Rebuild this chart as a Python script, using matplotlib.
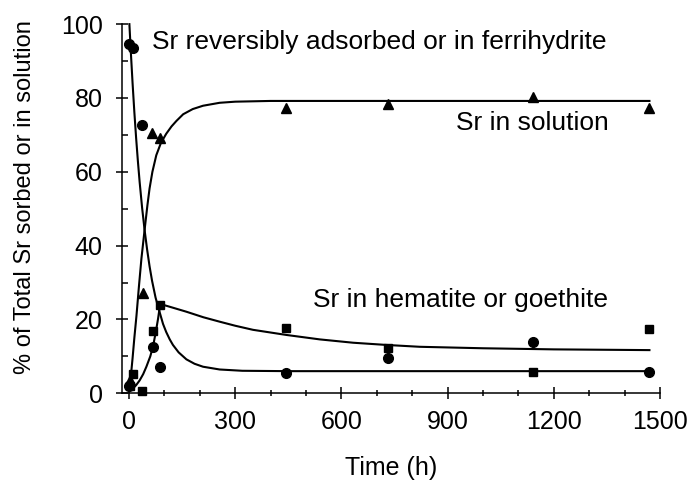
import matplotlib
matplotlib.use("Agg")
import matplotlib.pyplot as plt
from matplotlib.ticker import MultipleLocator

plt.rcParams['font.family'] = ['Liberation Sans', 'DejaVu Sans']

# measured points (h, %)
circ_t = [1, 1, 10, 38, 68, 87, 444, 732, 1140, 1470]
circ_y = [94.5, 2.0, 93.5, 72.7, 12.6, 7.2, 5.6, 9.6, 13.8, 5.8]
tri_t = [2, 39, 66, 87, 444, 732, 1140, 1470]
tri_y = [3.5, 27.1, 70.5, 69.1, 77.3, 78.4, 80.4, 77.2]
sq_t = [2, 10, 38, 68, 88, 444, 732, 1140, 1470]
sq_y = [2.0, 5.2, 0.7, 17.0, 24.0, 17.6, 12.2, 5.8, 17.3]

# model curves
sol_t = [0, 5, 10, 15, 21, 28, 35, 44, 52, 58, 66, 77, 90, 105, 120, 134, 153, 180,
         209, 256, 300, 400, 1470]
sol_y = [0.5, 4.5, 9.5, 15, 21, 29, 36.5, 44.3, 51, 55.5, 60, 64.5, 67.8, 70.3,
         72.3, 73.8, 75.6, 77.0, 77.9, 78.7, 79.0, 79.2, 79.2]

rev_t = [1, 5, 10, 15, 20, 25, 30, 37, 44, 51, 58, 65, 75, 87, 96, 105, 115, 124,
         140, 162, 185, 209, 256, 320, 450, 1470]
rev_y = [100, 92.6, 84.0, 76.2, 69.2, 62.9, 57.2, 50.2, 44.2, 39.0, 34.4, 30.5,
         25.9, 21.8, 18.8, 16.6, 14.6, 13.1, 11.1, 9.2, 8.0, 7.2, 6.45, 6.1, 6.0, 6.0]

hem_t = [0, 5, 10, 15, 20, 30, 40, 49, 60, 68, 75, 82, 88, 120, 162, 210, 256, 300,
         350, 445, 539, 633, 727, 821, 1000, 1200, 1470]
hem_y = [3, 2, 1.6, 1.7, 2.2, 3.5, 5.2, 7.2, 10, 12.8, 16.3, 20.2, 24.2, 23.3, 22.1,
         20.6, 19.4, 18.3, 17.2, 15.8, 14.6, 13.7, 13.1, 12.6, 12.2, 11.9, 11.7]

fig = plt.figure(figsize=(6.89, 4.87), dpi=100)
ax = fig.add_axes([0.177, 0.1924, 0.781, 0.758])

for t, y in [(sol_t, sol_y), (rev_t, rev_y), (hem_t, hem_y)]:
    ax.plot(t, y, color='black', lw=1.5, clip_on=False)

ax.plot(circ_t, circ_y, 'o', color='black', ms=7, clip_on=False)
ax.plot(tri_t, tri_y, '^', color='black', ms=7, clip_on=False)
ax.plot(sq_t, sq_y, 's', color='black', ms=6, clip_on=False)

ax.text(64, 95.2, 'Sr reversibly adsorbed or in ferrihydrite', fontsize=19, va='center')
ax.text(1354, 73.3, 'Sr in solution', fontsize=19, va='center', ha='right')
ax.text(1354, 25.3, 'Sr in hematite or goethite', fontsize=19, va='center', ha='right')

ax.set_xlim(-20, 1500)
ax.set_ylim(0, 100)
ax.xaxis.set_major_locator(MultipleLocator(300))
ax.xaxis.set_minor_locator(MultipleLocator(100))
ax.yaxis.set_major_locator(MultipleLocator(20))
ax.yaxis.set_minor_locator(MultipleLocator(10))
ax.tick_params(axis='x', which='major', direction='inout', length=8, width=1.1,
               labelsize=18, pad=8)
ax.tick_params(axis='x', which='minor', direction='inout', length=5, width=1.1)
ax.tick_params(axis='y', which='major', direction='inout', length=8, width=1.1,
               labelsize=18, pad=10)
ax.tick_params(axis='y', which='minor', direction='in', length=4, width=1.1)

for s in ['top', 'right']:
    ax.spines[s].set_visible(False)
for s in ['left', 'bottom']:
    ax.spines[s].set_linewidth(1.1)

ax.set_xlabel('Time (h)', fontsize=18, labelpad=16)
ax.set_ylabel('% of Total Sr sorbed or in solution', fontsize=17)
ax.yaxis.set_label_coords(-0.16, 0.531)

fig.savefig('out.png', dpi=100)
